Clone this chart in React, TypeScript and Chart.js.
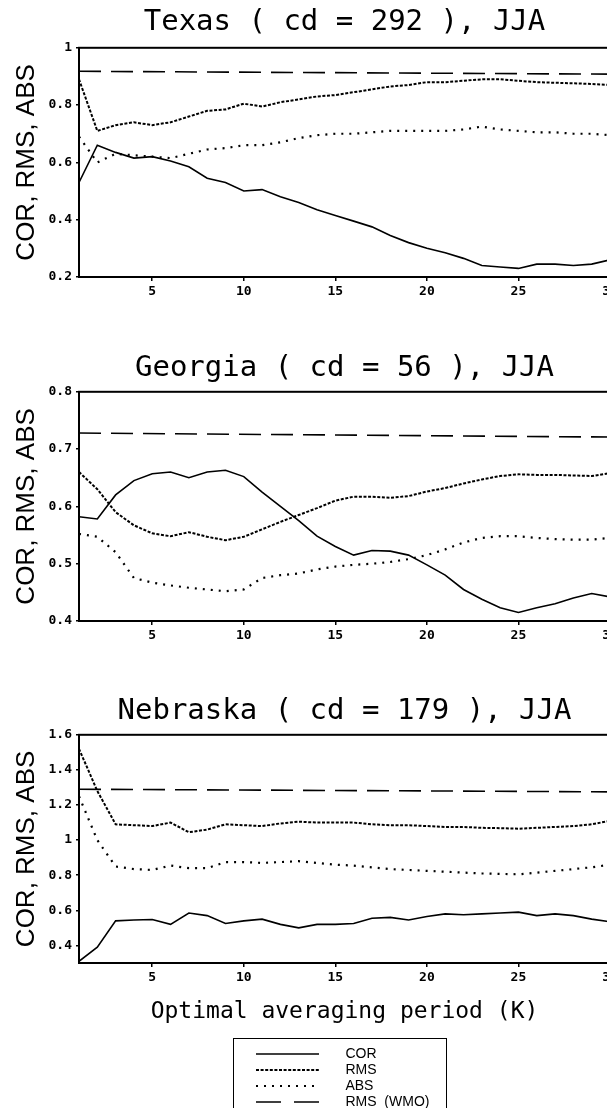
import React, { useEffect, useRef } from 'react';
import { Chart, registerables } from 'chart.js';
Chart.register(...registerables);

// Averaging period K
const K = [1, 2, 3, 4, 5, 6, 7, 8, 9, 10, 11, 12, 13, 14, 15, 16, 17, 18, 19, 20, 21, 22, 23, 24, 25, 26, 27, 28, 29, 30];
const WMO_K = [1, 30];

const TEXAS_COR = [0.53, 0.66, 0.635, 0.615, 0.62, 0.605, 0.585, 0.545, 0.53, 0.5, 0.505, 0.48, 0.46, 0.435, 0.415, 0.395, 0.375, 0.345, 0.32, 0.3, 0.285, 0.265, 0.24, 0.235, 0.23, 0.245, 0.245, 0.24, 0.245, 0.26];
const TEXAS_RMS = [0.89, 0.71, 0.73, 0.74, 0.73, 0.74, 0.76, 0.78, 0.785, 0.805, 0.795, 0.81, 0.82, 0.83, 0.835, 0.845, 0.855, 0.865, 0.87, 0.88, 0.88, 0.885, 0.89, 0.89, 0.885, 0.88, 0.878, 0.876, 0.874, 0.87];
const TEXAS_ABS = [0.69, 0.6, 0.63, 0.625, 0.62, 0.615, 0.63, 0.645, 0.65, 0.66, 0.66, 0.67, 0.685, 0.695, 0.7, 0.7, 0.705, 0.71, 0.71, 0.71, 0.71, 0.715, 0.725, 0.715, 0.71, 0.705, 0.705, 0.7, 0.7, 0.695];
const TEXAS_WMO = [0.918, 0.908];

const GEORGIA_COR = [0.582, 0.578, 0.62, 0.645, 0.657, 0.66, 0.65, 0.66, 0.663, 0.652, 0.625, 0.6, 0.575, 0.548, 0.53, 0.515, 0.523, 0.522, 0.515, 0.498, 0.48, 0.455, 0.438, 0.423, 0.415, 0.423, 0.43, 0.44, 0.448, 0.442];
const GEORGIA_RMS = [0.66, 0.63, 0.59, 0.567, 0.553, 0.548, 0.555, 0.547, 0.541, 0.547, 0.56, 0.573, 0.585, 0.597, 0.61, 0.617, 0.617, 0.615, 0.618, 0.626, 0.632, 0.64, 0.647, 0.653, 0.656, 0.655, 0.655, 0.654, 0.653, 0.658];
const GEORGIA_ABS = [0.552, 0.547, 0.52, 0.475, 0.467, 0.462, 0.458, 0.455, 0.452, 0.455, 0.475, 0.48, 0.483, 0.49, 0.495, 0.498, 0.5, 0.503, 0.508, 0.515, 0.525, 0.537, 0.545, 0.548, 0.548, 0.545, 0.543, 0.542, 0.542, 0.545];
const GEORGIA_WMO = [0.728, 0.721];

const NEBRASKA_COR = [0.31, 0.39, 0.54, 0.545, 0.548, 0.52, 0.585, 0.57, 0.525, 0.54, 0.55, 0.52, 0.5, 0.52, 0.52, 0.525, 0.555, 0.56, 0.545, 0.565, 0.58, 0.575, 0.58, 0.585, 0.59, 0.57, 0.58, 0.57, 0.55, 0.535];
const NEBRASKA_RMS = [1.52, 1.28, 1.09, 1.085, 1.08, 1.1, 1.045, 1.06, 1.09, 1.085, 1.08, 1.095, 1.105, 1.1, 1.1, 1.1, 1.09, 1.085, 1.085, 1.08, 1.075, 1.075, 1.07, 1.068, 1.065, 1.07, 1.075, 1.08, 1.09, 1.11];
const NEBRASKA_ABS = [1.25, 1.0, 0.85, 0.835, 0.83, 0.855, 0.84, 0.84, 0.875, 0.875, 0.87, 0.875, 0.88, 0.87, 0.86, 0.855, 0.845, 0.835, 0.83, 0.825, 0.82, 0.815, 0.81, 0.808, 0.805, 0.815, 0.825, 0.835, 0.845, 0.86];
const NEBRASKA_WMO = [1.29, 1.275];

const SERIES_NAMES = ['COR', 'RMS', 'ABS', 'RMS  (WMO)'];
const PANEL_TITLES = ['Texas ( cd = 292 ), JJA', 'Georgia ( cd = 56 ), JJA', 'Nebraska ( cd = 179 ), JJA'];
const Y_TITLE = 'COR, RMS, ABS';
const X_TITLE = 'Optimal averaging period (K)';

const MONO = '"DejaVu Sans Mono", monospace';
const SANS = '"Liberation Sans", Arial, sans-serif';

const STYLES = [
  { borderDash: [] as number[], borderWidth: 1.6 },
  { borderDash: [3, 1.6], borderWidth: 2 },
  { borderDash: [2, 6], borderWidth: 2.2 },
  { borderDash: [22, 10], borderWidth: 1.6 },
];
const LEGEND_DASHES = [[] as number[], [3, 1.6], [2, 6], [25, 13]];

function makeDatasets(cor: number[], rms: number[], abs: number[], wmo: number[]) {
  const series = [
    K.map((k, i) => ({ x: k, y: cor[i] })),
    K.map((k, i) => ({ x: k, y: rms[i] })),
    K.map((k, i) => ({ x: k, y: abs[i] })),
    WMO_K.map((k, i) => ({ x: k, y: wmo[i] })),
  ];
  return series.map((data, i) => ({
    label: SERIES_NAMES[i],
    data,
    borderColor: '#000',
    backgroundColor: '#000',
    pointRadius: 0,
    fill: false,
    tension: 0,
    ...STYLES[i],
  }));
}

const framePlugin = {
  id: 'frame',
  afterDraw(chart: any) {
    const { ctx, chartArea } = chart;
    ctx.save();
    ctx.strokeStyle = '#000';
    ctx.lineWidth = 2;
    ctx.setLineDash([]);
    ctx.strokeRect(chartArea.left, chartArea.top, chartArea.right - chartArea.left, chartArea.bottom - chartArea.top);
    ctx.restore();
  },
};

type PanelProps = {
  title: string;
  cor: number[]; rms: number[]; abs: number[]; wmo: number[];
  yMin: number; yMax: number; yStep: number; yEvery: number;
  height: number; titleTop: number; titleBottom: number; xAxisHeight: number;
  showXTitle: boolean;
};

function Panel(p: PanelProps) {
  const ref = useRef<HTMLCanvasElement>(null);
  useEffect(() => {
    const chart = new Chart(ref.current as HTMLCanvasElement, {
      type: 'line',
      data: { datasets: makeDatasets(p.cor, p.rms, p.abs, p.wmo) as any },
      options: {
        responsive: false,
        animation: false,
        devicePixelRatio: 1,
        layout: { padding: { left: 0, right: 12, top: 0, bottom: 0 } },
        plugins: {
          legend: { display: false },
          tooltip: { enabled: false },
          title: {
            display: true,
            text: p.title,
            fullSize: false,
            color: '#000',
            font: { family: MONO, size: 29, weight: 'normal' },
            padding: { top: p.titleTop, bottom: p.titleBottom },
          },
        },
        scales: {
          x: {
            type: 'linear',
            min: 1,
            max: 30,
            afterBuildTicks: (s: any) => { s.ticks = s.ticks.filter((t: any) => t.value % 5 === 0); },
            afterFit: (s: any) => { s.height = p.xAxisHeight; },
            ticks: { stepSize: 5, autoSkip: false, maxRotation: 0, padding: 3, color: '#000', font: { family: MONO, size: 13, weight: 'bold' } },
            grid: { display: true, drawOnChartArea: false, drawTicks: true, tickLength: 4, color: '#000', lineWidth: 1.5 },
            border: { display: false },
            title: {
              display: p.showXTitle,
              text: X_TITLE,
              color: '#000',
              font: { family: MONO, size: 23, weight: 'normal' },
              padding: { top: 0, bottom: 4 },
            },
          },
          y: {
            type: 'linear',
            min: p.yMin,
            max: p.yMax,
            afterBuildTicks: (s: any) => {
              s.ticks = s.ticks.filter((t: any) => Math.abs(t.value / p.yEvery - Math.round(t.value / p.yEvery)) < 1e-6);
            },
            afterFit: (s: any) => { s.width = 79; },
            ticks: {
              stepSize: p.yStep,
              autoSkip: false,
              padding: 4,
              color: '#000',
              font: { family: MONO, size: 13, weight: 'bold' },
              callback: (v: any) => String(Number(Number(v).toFixed(2))),
            },
            grid: { display: true, drawOnChartArea: false, drawTicks: true, tickLength: 3, color: '#000', lineWidth: 1.5 },
            border: { display: false },
            title: {
              display: true,
              text: Y_TITLE,
              color: '#000',
              font: { family: SANS, size: 26, weight: 'normal' },
              padding: { top: 11, bottom: 0 },
            },
          },
        },
      } as any,
      plugins: [framePlugin],
    });
    return () => chart.destroy();
  }, []);
  return <canvas ref={ref} width={622} height={p.height} style={{ display: 'block' }} />;
}

function LegendBox() {
  const ref = useRef<HTMLCanvasElement>(null);
  useEffect(() => {
    const datasets = SERIES_NAMES.map((name, i) => ({
      label: name,
      data: [] as number[],
      borderColor: '#000',
      backgroundColor: '#000',
      pointRadius: 0,
      ...STYLES[i],
    }));
    const chart = new Chart(ref.current as HTMLCanvasElement, {
      type: 'line',
      data: { labels: [], datasets: datasets as any },
      options: {
        responsive: false,
        animation: false,
        devicePixelRatio: 1,
        layout: { padding: { top: 6, left: 20, right: 0, bottom: 0 } },
        scales: { x: { display: false }, y: { display: false } },
        plugins: {
          tooltip: { enabled: false },
          legend: {
            display: true,
            position: 'top',
            align: 'start',
            labels: {
              usePointStyle: true,
              pointStyle: 'line',
              pointStyleWidth: 63,
              padding: 2,
              color: '#000',
              font: { family: SANS, size: 14 },
              generateLabels: (c: any) =>
                (Chart.defaults.plugins.legend.labels.generateLabels as any)(c).map((it: any, i: number) => ({
                  ...it,
                  text: '     ' + it.text,
                  lineDash: LEGEND_DASHES[i],
                  lineWidth: STYLES[i].borderWidth,
                  strokeStyle: '#000',
                })),
            },
          },
        },
      } as any,
    });
    return () => chart.destroy();
  }, []);
  return <canvas ref={ref} width={212} height={200} style={{ display: 'block' }} />;
}

export default function App() {
  return (
    <div style={{ margin: '-8px 0 -8px -8px', width: 615, height: 1116, overflow: 'hidden', background: '#fff' }}>
      <Panel title={PANEL_TITLES[0]} cor={TEXAS_COR} rms={TEXAS_RMS} abs={TEXAS_ABS} wmo={TEXAS_WMO}
        yMin={0.2} yMax={1} yStep={0.2} yEvery={0.2} height={305} titleTop={5} titleBottom={8} xAxisHeight={28} showXTitle={false} />
      <Panel title={PANEL_TITLES[1]} cor={GEORGIA_COR} rms={GEORGIA_RMS} abs={GEORGIA_ABS} wmo={GEORGIA_WMO}
        yMin={0.4} yMax={0.8} yStep={0.1} yEvery={0.1} height={345} titleTop={46} titleBottom={6} xAxisHeight={29} showXTitle={false} />
      <Panel title={PANEL_TITLES[2]} cor={NEBRASKA_COR} rms={NEBRASKA_RMS} abs={NEBRASKA_ABS} wmo={NEBRASKA_WMO}
        yMin={0.3} yMax={1.6} yStep={0.2} yEvery={0.2} height={380} titleTop={44} titleBottom={6} xAxisHeight={67} showXTitle={true} />
      <div style={{ marginLeft: 233, marginTop: 8, width: 212, height: 72, border: '1.5px solid #000', overflow: 'hidden' }}>
        <LegendBox />
      </div>
    </div>
  );
}
